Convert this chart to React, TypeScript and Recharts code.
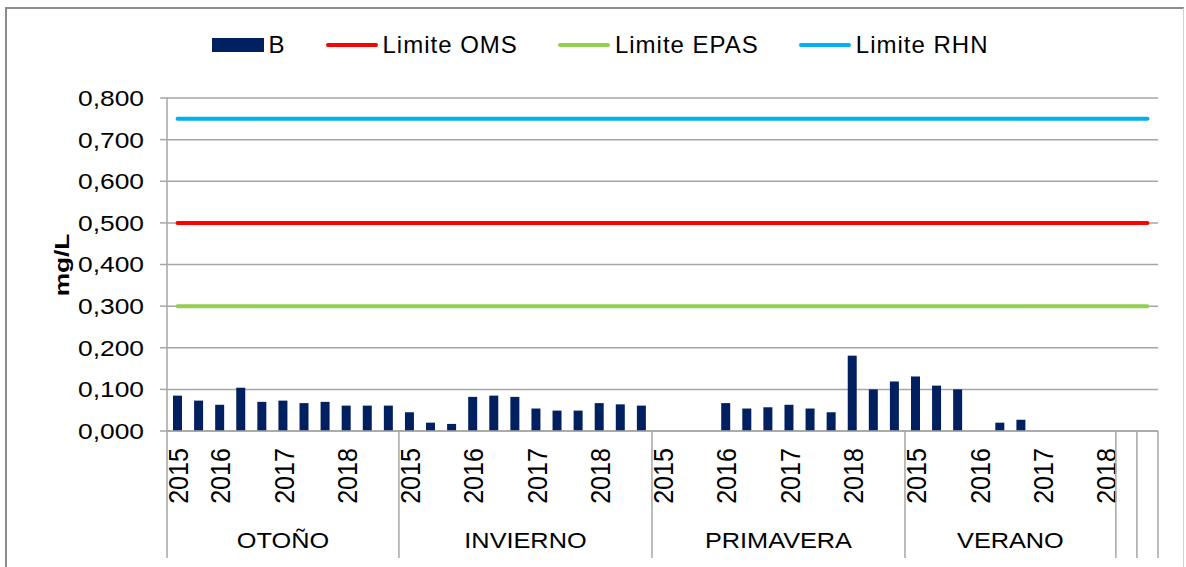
import { ComposedChart, Bar, Line, XAxis, YAxis, CartesianGrid } from "recharts";

const seasons = ["OTOÑO", "INVIERNO", "PRIMAVERA", "VERANO", "", ""];

// year label under each category of a season ("" = no label)
const seasonYears = [
  ["2015", "", "2016", "", "", "2017", "", "", "2018", "", ""],
  ["2015", "", "", "2016", "", "", "2017", "", "", "2018", "", ""],
  ["2015", "", "", "2016", "", "", "2017", "", "", "2018", "", ""],
  ["2015", "", "", "2016", "", "", "2017", "", "", "2018"],
  [""],
  [""],
];

// boro (mg/L), null = sin dato
const boro = [
  [0.085, 0.073, 0.063, 0.104, 0.07, 0.073, 0.067, 0.07, 0.061, 0.061, 0.061],
  [0.045, 0.02, 0.017, 0.082, 0.085, 0.082, 0.054, 0.049, 0.049, 0.067, 0.064, 0.061],
  [null, null, null, 0.067, 0.054, 0.057, 0.063, 0.054, 0.045, 0.181, 0.1, 0.119],
  [0.131, 0.109, 0.1, null, 0.02, 0.027, null, null, null, null],
  [null],
  [null],
];

const limiteOMS = 0.5;
const limiteEPAS = 0.3;
const limiteRHN = 0.75;
const yTicks = [0, 0.1, 0.2, 0.3, 0.4, 0.5, 0.6, 0.7, 0.8];

const rows = seasons.flatMap((season, g) =>
  seasonYears[g].map((year, i) => ({
    key: `${g}-${i}`,
    season,
    year,
    start: i === 0,
    size: seasonYears[g].length,
    B: boro[g][i],
    oms: limiteOMS,
    epas: limiteEPAS,
    rhn: limiteRHN,
  }))
);

const W = 1186;
const H = 567;
const M = { top: 98, right: 28, left: 0 };
const Y_W = 167;
const X_H = 136;
const PLOT_BOTTOM = H - X_H;
const BW = (W - M.right - Y_W) / rows.length;
const FONT = "'Liberation Sans', Arial, sans-serif";
const GRID = "#a6a6a6";

function YTick(props: any) {
  const { x, y, payload } = props;
  const label = payload.value.toFixed(3).replace(".", ",");
  return (
    <text
      transform={`translate(${x},${y}) scale(1.2,1)`}
      textAnchor="end"
      dy="0.36em"
      fontSize={22}
      fontFamily={FONT}
      fill="#000"
    >
      {label}
    </text>
  );
}

function XTick(props: any) {
  const { x, index } = props;
  const r = rows[index];
  if (!r) return null;
  const left = x - BW / 2;
  return (
    <g>
      {r.year && (
        <text
          transform={`translate(${x + 1},448) rotate(-90) scale(0.93,1)`}
          textAnchor="end"
          dy="0.36em"
          fontSize={27}
          fontFamily={FONT}
          fill="#000"
        >
          {r.year}
        </text>
      )}
      {r.start && <line x1={left} x2={left} y1={PLOT_BOTTOM} y2={558} stroke={GRID} strokeWidth={1.5} />}
      {r.start && r.season && (
        <text
          transform={`translate(${left + (r.size * BW) / 2},548) scale(1.15,1)`}
          textAnchor="middle"
          fontSize={22}
          fontFamily={FONT}
          fill="#000"
        >
          {r.season}
        </text>
      )}
      {index === rows.length - 1 && (
        <line x1={x + BW / 2} x2={x + BW / 2} y1={PLOT_BOTTOM} y2={558} stroke={GRID} strokeWidth={1.5} />
      )}
    </g>
  );
}

const legendItems = [
  { name: "B", color: "#002060", bar: true },
  { name: "Limite OMS", color: "#ff0000" },
  { name: "Limite EPAS", color: "#92d050" },
  { name: "Limite RHN", color: "#00b0f0" },
];

function LegendRow() {
  return (
    <div
      style={{
        position: "absolute",
        top: 31,
        left: 0,
        width: W,
        display: "flex",
        justifyContent: "center",
        alignItems: "center",
        gap: 40,
        fontFamily: FONT,
        fontSize: 24,
        letterSpacing: 1,
        color: "#000",
        paddingLeft: 14,
        boxSizing: "border-box",
      }}
    >
      {legendItems.map((it) => (
        <div key={it.name} style={{ display: "flex", alignItems: "center", gap: 5 }}>
          <span
            style={{
              display: "inline-block",
              width: 52,
              height: it.bar ? 14 : 4,
              borderRadius: it.bar ? 0 : 2,
              background: it.color,
            }}
          />
          <span>{it.name}</span>
        </div>
      ))}
    </div>
  );
}

export default function App() {
  return (
    <div style={{ position: "absolute", left: 0, top: 0, width: W, height: H, background: "#fff", overflow: "hidden" }}>
      <div
        style={{
          position: "absolute",
          left: 5,
          top: 7,
          width: W - 7,
          height: H + 20,
          borderTop: "2px solid #8c8c8c",
          borderLeft: "2px solid #8c8c8c",
          borderRight: "1px solid #d0d0d0",
          boxSizing: "border-box",
        }}
      />
      <LegendRow />
      <div
        style={{
          position: "absolute",
          left: 61,
          top: 265,
          transform: "translate(-50%,-50%) rotate(-90deg) scaleX(1.25)",
          fontFamily: FONT,
          fontWeight: "bold",
          fontSize: 21,
          lineHeight: 1,
          color: "#000",
        }}
      >
        mg/L
      </div>
      <ComposedChart
        width={W}
        height={H}
        data={rows}
        margin={{ top: M.top, right: M.right, bottom: 0, left: M.left }}
        style={{ position: "absolute", left: 0, top: 0 }}
      >
        <CartesianGrid vertical={false} stroke={GRID} strokeWidth={1.5} />
        <XAxis
          dataKey="key"
          interval={0}
          height={X_H}
          tickLine={false}
          axisLine={{ stroke: GRID, strokeWidth: 1.5 }}
          tick={<XTick />}
        />
        <YAxis
          domain={[0, 0.8]}
          ticks={yTicks}
          width={Y_W}
          tickSize={7}
          tickMargin={16}
          axisLine={{ stroke: GRID, strokeWidth: 1.5 }}
          tickLine={{ stroke: GRID, strokeWidth: 1.5 }}
          tick={<YTick />}
          interval={0}
        />
        <Bar dataKey="B" fill="#002060" barSize={9} isAnimationActive={false} />
        <Line dataKey="oms" stroke="#ff0000" strokeWidth={4} dot={false} activeDot={false} strokeLinecap="round" isAnimationActive={false} />
        <Line dataKey="epas" stroke="#92d050" strokeWidth={4} dot={false} activeDot={false} strokeLinecap="round" isAnimationActive={false} />
        <Line dataKey="rhn" stroke="#00b0f0" strokeWidth={4} dot={false} activeDot={false} strokeLinecap="round" isAnimationActive={false} />
      </ComposedChart>
    </div>
  );
}
